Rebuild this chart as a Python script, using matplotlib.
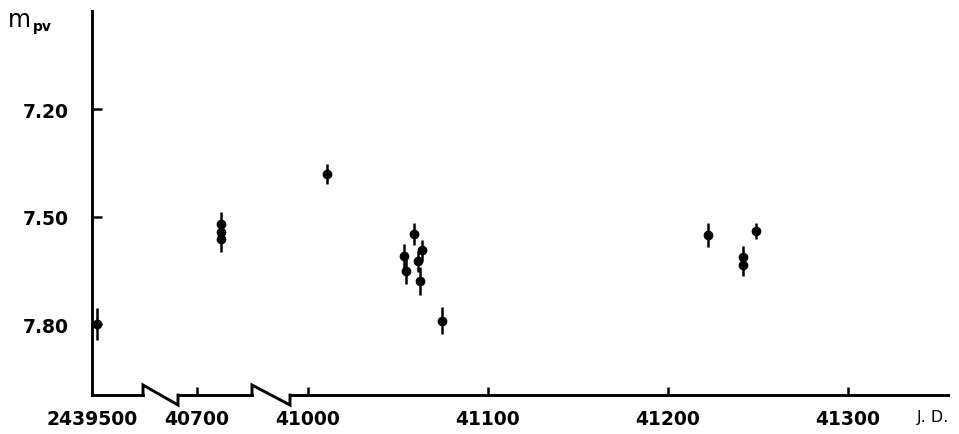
import numpy as np
import matplotlib.pyplot as plt

#--------data--------
# first segment (J.D. 2439500...)
jd_a = [2439502.8]
mag_a = [7.80]
err_a = [0.045]

# second segment (around 40700)
jd_b = [40713.3, 40713.3, 40713.3]
mag_b = [7.521, 7.543, 7.563]
err_b = [0.035, 0.03, 0.035]

# third segment (41000 onwards)
jd_c = [41010.6, 41053.6, 41054.2, 41058.7, 41060.9, 41062.0, 41063.1,
        41074.3, 41222.2, 41241.7, 41241.7, 41248.9]
mag_c = [7.382, 7.611, 7.653, 7.549, 7.625, 7.680, 7.594,
         7.791, 7.552, 7.613, 7.636, 7.541]
err_c = [0.028, 0.035, 0.035, 0.03, 0.03, 0.04, 0.03,
         0.038, 0.033, 0.03, 0.03, 0.022]

yticks = [7.20, 7.50, 7.80]
ytick_labels = ["7.20", "7.50", "7.80"]
xticks_a = [2439500]
xticks_b = [40700]
xticks_c = [41000, 41100, 41200, 41300]
#--------data end--------

W, H = 959, 435
LW = 2.1
FONT = dict(fontsize=13.5, fontweight="bold", family="DejaVu Sans")

fig = plt.figure(figsize=(W / 100, H / 100), dpi=100)

def px_axes(x0, x1, y0=12, y1=396):
  return fig.add_axes([x0 / W, 1 - y1 / H, (x1 - x0) / W, (y1 - y0) / H])

ax1 = px_axes(92, 143)
ax2 = px_axes(178, 252)
ax3 = px_axes(290, 948)

ylim = (7.998, 6.926)
setups = [
  (ax1, jd_a, mag_a, err_a, (2439500, 2439528.3), xticks_a),
  (ax2, jd_b, mag_b, err_b, (40689.4, 40730.6), xticks_b),
  (ax3, jd_c, mag_c, err_c, (40990.0, 41355.6), xticks_c),
]

for ax, jd, mag, err, xlim, xt in setups:
  ax.errorbar(jd, mag, yerr=err, fmt="o", color="black", markersize=6,
              elinewidth=1.8, capsize=0, clip_on=False)
  ax.set_xlim(*xlim)
  ax.set_ylim(*ylim)
  ax.set_xticks(xt)
  ax.set_xticklabels([str(v) for v in xt], **FONT)
  ax.tick_params(axis="x", direction="in", length=6, width=1.8, pad=10)
  for side in ("top", "right", "left"):
    ax.spines[side].set_visible(False)
  ax.spines["bottom"].set_linewidth(LW)
  ax.patch.set_alpha(0)
  ax.set_yticks([])

ax1.spines["left"].set_visible(True)
ax1.spines["left"].set_linewidth(LW)
ax1.set_yticks(yticks)
ax1.set_yticklabels(ytick_labels, **FONT)
ax1.tick_params(axis="y", direction="in", length=7, width=1.8, pad=17)
ax1.tick_params(axis="x", length=0)

# zigzag breaks on the time axis (pixel positions)
def px(x, y):
  return x / W, 1 - y / H

for xa, xb in ((143, 178), (252, 290)):
  pts = [px(xa, 396), px(xa, 386), px(xb, 406), px(xb, 396)]
  xs, ys = zip(*pts)
  fig.add_artist(plt.Line2D(xs, ys, color="black", linewidth=LW,
                            transform=fig.transFigure, solid_joinstyle="miter"))

# axis titles
fig.text(*px(8, 27), "m", fontsize=17, family="DejaVu Sans", va="baseline")
fig.text(*px(33, 31), "pv", fontsize=10, fontweight="bold",
         family="DejaVu Sans", va="baseline")
fig.text(*px(949, 418), "J. D.", fontsize=11.5, family="DejaVu Sans",
         ha="right", va="center")

fig.savefig("out.png", dpi=100)
